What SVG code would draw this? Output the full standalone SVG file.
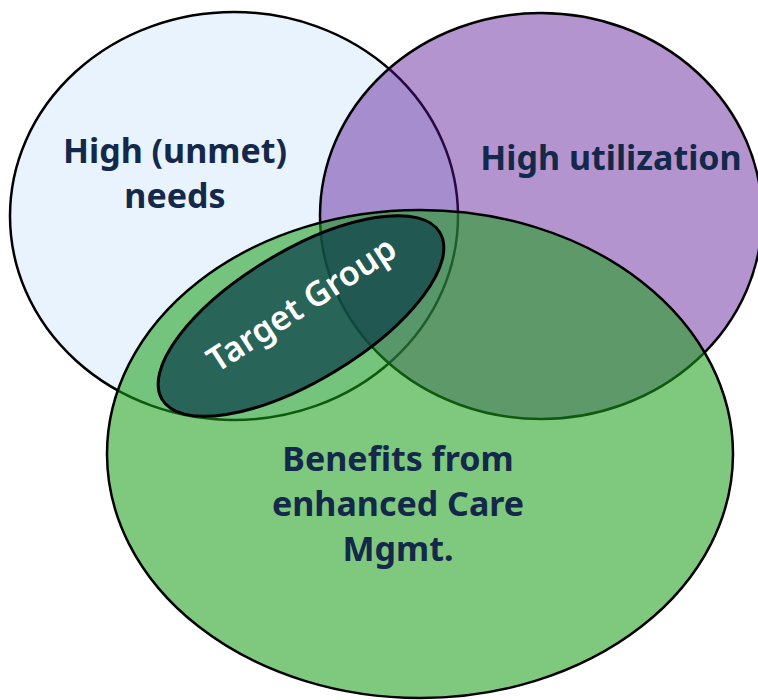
<svg xmlns="http://www.w3.org/2000/svg" width="758" height="700" viewBox="0 0 758 700">
<style>
.lbl{font-family:"Noto Sans","DejaVu Sans",sans-serif;font-weight:bold;font-size:34px;fill:#14284a;text-anchor:middle}
.tg{font-family:"Noto Sans","DejaVu Sans",sans-serif;font-weight:600;font-size:34px;fill:#ffffff;text-anchor:middle}
.ol{stroke:#000;stroke-width:2.5}
</style>
<rect width="758" height="700" fill="#ffffff"/>
<g id="needs">
<ellipse class="ol" cx="234" cy="216" rx="224" ry="204" fill="#e8f3fd"/>
</g>
<g id="utilization">
<ellipse class="ol" cx="541" cy="216" rx="221" ry="203" fill="rgb(86,18,149)" fill-opacity="0.45"/>
</g>
<g id="benefits">
<ellipse class="ol" cx="420" cy="454" rx="313" ry="244" fill="rgb(29,160,27)" fill-opacity="0.566"/>
</g>
<g id="target">
<ellipse cx="301" cy="316" rx="162" ry="65" transform="rotate(-31 301 316)" fill="rgb(14,66,74)" fill-opacity="0.74" stroke="#000" stroke-width="3"/>
<text class="tg" transform="translate(308 314) rotate(-33)">Target Group</text>
</g>
<g id="labels">
<text class="lbl" x="175" y="163">High (unmet)</text>
<text class="lbl" x="175" y="208">needs</text>
<text class="lbl" x="611" y="170">High utilization</text>
<text class="lbl" x="398" y="471">Benefits from</text>
<text class="lbl" x="398" y="516">enhanced Care</text>
<text class="lbl" x="398" y="561">Mgmt.</text>
</g>
<g id="connectors"/>
</svg>
